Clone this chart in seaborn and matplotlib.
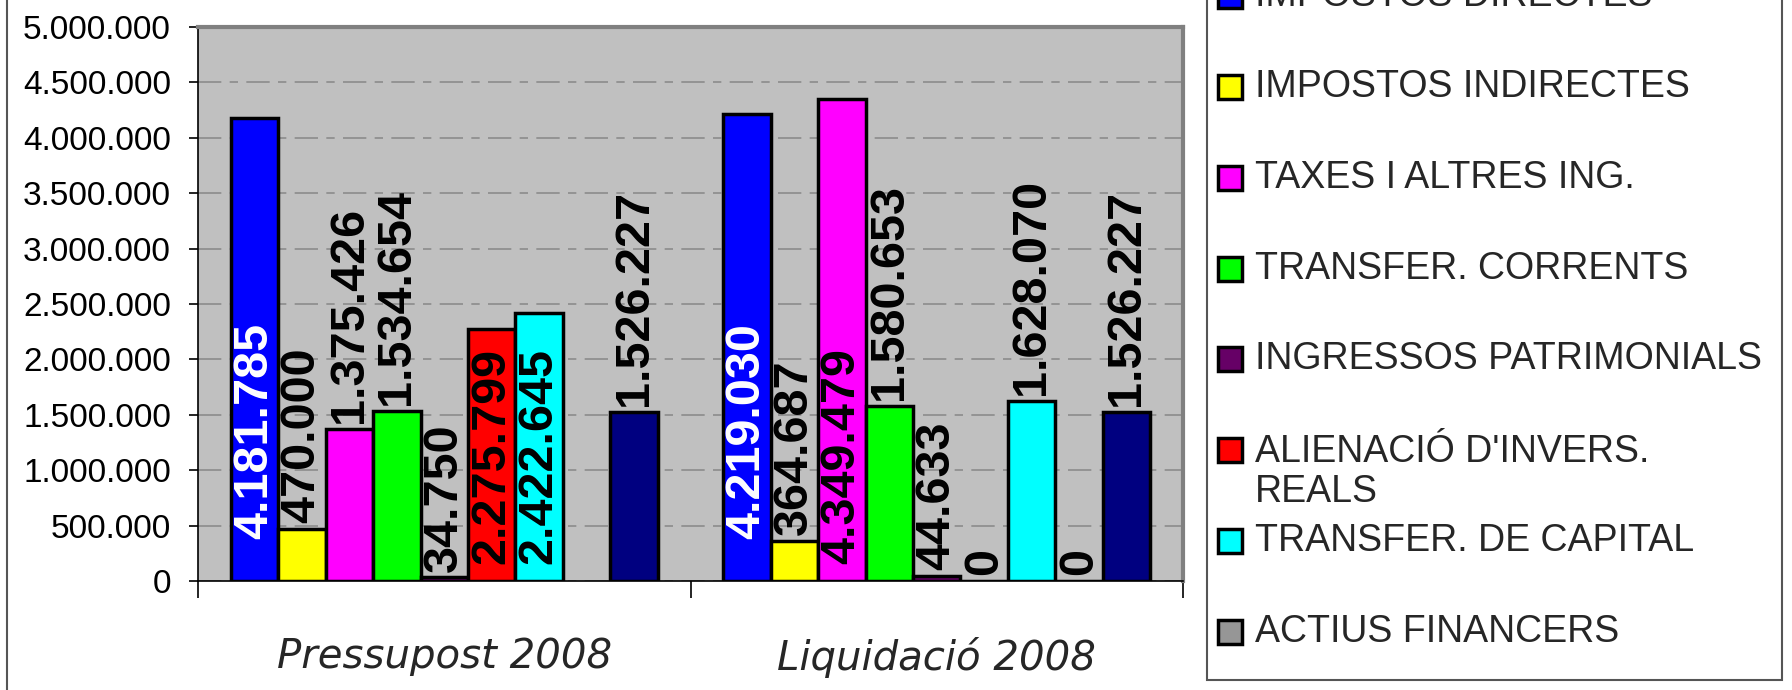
"""
Ingressos 2008: pressupost vs liquidació, grouped bar chart.
"""

import matplotlib

matplotlib.use("Agg")

import matplotlib.pyplot as plt
import numpy as np
import pandas as pd
import seaborn as sns
from matplotlib.lines import Line2D
from matplotlib.patches import Rectangle
from matplotlib.ticker import FuncFormatter, MultipleLocator

W, H = 1792, 690

groups = ["Pressupost 2008", "Liquidació 2008"]
series = [
    "IMPOSTOS DIRECTES",
    "IMPOSTOS INDIRECTES",
    "TAXES I ALTRES ING.",
    "TRANSFER. CORRENTS",
    "INGRESSOS PATRIMONIALS",
    "ALIENACIÓ D'INVERS.\nREALS",
    "TRANSFER. DE CAPITAL",
    "ACTIUS FINANCERS",
    "PASSIUS FINANCERS",
]
colors = [
    "#0000FF", "#FFFF00", "#FF00FF", "#00FF00", "#660066",
    "#FF0000", "#00FFFF", "#969696", "#000080",
]
pressupost = [4181785, 470000, 1375426, 1534654, 34750, 2275799, 2422645, np.nan, 1526227]
liquidacio = [4219030, 364687, 4349479, 1580653, 44633, 0, 1628070, 0, 1526227]
# the legend in the source only lists the first eight series
legend_series = series[:8]


def fmt_es(value, _pos=None):
    return f"{value:,.0f}".replace(",", ".")


df = pd.DataFrame({
    "grup": np.repeat(groups, len(series)),
    "concepte": series * len(groups),
    "valor": pressupost + liquidacio,
})

sns.set_theme(style="white")
plt.rcParams["font.family"] = ["Liberation Sans", "DejaVu Sans"]

fig = plt.figure(figsize=(W / 100, H / 100), dpi=100)
ax = fig.add_axes([198 / W, 1 - 581 / H, (1183 - 198) / W, (581 - 27) / H])
ax.set_facecolor("#C0C0C0")

sns.barplot(
    data=df,
    x="grup",
    y="valor",
    hue="concepte",
    order=groups,
    hue_order=series,
    palette=colors,
    saturation=1,
    width=0.868,
    edgecolor="black",
    linewidth=2.5,
    errorbar=None,
    legend=False,
    ax=ax,
)

# data labels, rotated; big bars get the label inside near the base
for i, container in enumerate(ax.containers):
    for bar in container:
        h = bar.get_height()
        if not np.isfinite(h):
            continue
        x = bar.get_x() + bar.get_width() / 2
        color = "white" if i == 0 else "black"
        if h > 2_000_000:
            anchor, offset = (x, 0), (0, 30 if i == 0 else 12)
        else:
            anchor, offset = (x, h), (0, 4)
        ax.annotate(
            fmt_es(h), anchor, xytext=offset, textcoords="offset points",
            rotation=90, ha="center", va="bottom", color=color,
            fontsize=35, fontweight="bold", zorder=5,
        )

ax.set_ylim(0, 5_000_000)
ax.yaxis.set_major_locator(MultipleLocator(500_000))
ax.yaxis.set_major_formatter(FuncFormatter(fmt_es))
ax.yaxis.grid(True, color="#8c8c8c", linestyle=(0, (14, 5, 5, 5)), linewidth=1.2)
ax.set_axisbelow(True)
ax.tick_params(axis="y", direction="out", length=6.5, width=1.2, pad=13,
               labelsize=24, colors="black", left=True)

ax.set_xlim(-0.5, 1.5)
ax.set_xticks(range(len(groups)))
ax.set_xticks([-0.5, 0.5, 1.5], minor=True)
ax.tick_params(axis="x", which="major", length=0, pad=40)
ax.tick_params(axis="x", which="minor", direction="out", length=12, width=1.2,
               color="black", bottom=True)
for lbl in ax.get_xticklabels():
    lbl.set_fontfamily("DejaVu Sans")
    lbl.set_fontstyle("italic")
    lbl.set_fontsize(29)
ax.set_xlabel("")
ax.set_ylabel("")

for side in ("top", "right"):
    ax.spines[side].set_color("#808080")
    ax.spines[side].set_linewidth(3)
for side in ("left", "bottom"):
    ax.spines[side].set_color("black")
    ax.spines[side].set_linewidth(1.2)

# outer chart frame (left edge only is inside the crop)
fig.add_artist(Line2D([7 / W, 7 / W], [0, 1], color="#555555", linewidth=1.5))

# legend box, drawn by hand: its top runs past the top of the image
fig.add_artist(Rectangle((1207 / W, 10 / H), (1782 - 1207) / W, 1.0,
                         facecolor="white", edgecolor="#555555", linewidth=1.5,
                         transform=fig.transFigure, zorder=1))
for k, name in enumerate(legend_series):
    yc = 87 + (k - 1) * 90.8
    fig.add_artist(Rectangle((1218 / W, 1 - (yc + 12) / H), 24 / W, 24 / H,
                             facecolor=colors[k], edgecolor="black", linewidth=2.5,
                             transform=fig.transFigure, zorder=2))
    extra = name.count("\n") * 22
    fig.text(1255 / W, 1 - (yc + extra) / H, name, va="center", ha="left",
             fontsize=27, linespacing=1.15, zorder=3)

fig.savefig("out.png", dpi=100)
